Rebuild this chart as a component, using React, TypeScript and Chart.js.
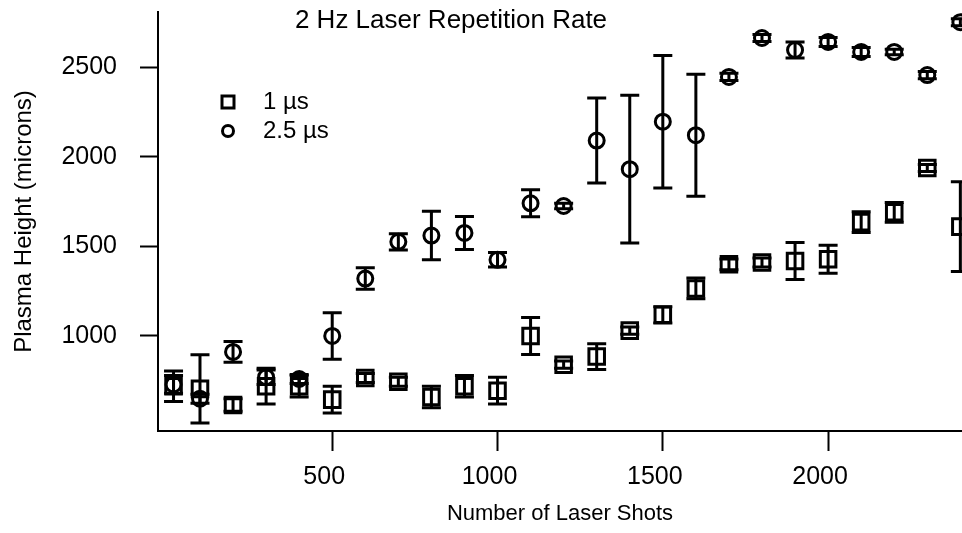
import React, { useEffect, useRef } from "react";
import { Chart, registerables } from "chart.js";

Chart.register(...registerables);

// Shot counts at which the plasma height was sampled
const SHOTS = [20, 100, 200, 300, 400, 500, 600, 700, 800, 900, 1000, 1100, 1200, 1300, 1400, 1500, 1600, 1700, 1800, 1900, 2000, 2100, 2200, 2300, 2400];

// 1 µs delay: mean plasma height and its uncertainty (microns)
const HEIGHT_1US = [720, 705, 615, 720, 720, 645, 766, 745, 660, 720, 695, 1000, 840, 885, 1030, 1118, 1265, 1400, 1410, 1418, 1428, 1635, 1690, 1937, 1610];
const ERR_1US = [85, 190, 35, 100, 60, 75, 25, 25, 60, 60, 75, 103, 20, 72, 20, 45, 58, 30, 25, 103, 78, 58, 55, 20, 250];

// 2.5 µs delay
const HEIGHT_25US = [730, 650, 911, 770, 760, 1000, 1320, 1525, 1560, 1575, 1425, 1740, 1725, 2090, 1930, 2195, 2120, 2445, 2662, 2595, 2640, 2584, 2584, 2455, 2750];
const ERR_25US = [50, 25, 58, 40, 25, 130, 60, 45, 135, 92, 40, 75, 15, 237, 412, 370, 340, 20, 20, 45, 25, 25, 15, 20, 20];

const X_TICKS = [500, 1000, 1500, 2000];
const Y_TICKS = [1000, 1500, 2000, 2500];

const SERIES_LABELS = ["1 \u00b5s", "2.5 \u00b5s"];
const TITLE = "2 Hz Laser Repetition Rate";
const X_TITLE = "Number of Laser Shots";
const Y_TITLE = "Plasma Height (microns)";

const INK = "#000000";
const FONT = "'Liberation Sans', Arial, Helvetica, sans-serif";
const CAP = 9.5;

// Vertical error bars with caps, drawn over the markers
const errorBars = {
  id: "errorBars",
  afterDatasetsDraw(chart: any) {
    const { ctx } = chart;
    const xs = chart.scales.x;
    const ys = chart.scales.y;
    ctx.save();
    ctx.strokeStyle = INK;
    ctx.lineWidth = 3;
    chart.data.datasets.forEach((ds: any) => {
      const errs: number[] = ds.errors || [];
      ds.data.forEach((pt: any, j: number) => {
        const e = errs[j] || 0;
        const px = xs.getPixelForValue(pt.x);
        const top = ys.getPixelForValue(pt.y + e);
        const bot = ys.getPixelForValue(pt.y - e);
        ctx.beginPath();
        ctx.moveTo(px, top);
        ctx.lineTo(px, bot);
        ctx.moveTo(px - CAP, top);
        ctx.lineTo(px + CAP, top);
        ctx.moveTo(px - CAP, bot);
        ctx.lineTo(px + CAP, bot);
        ctx.stroke();
      });
    });
    ctx.restore();
  },
};

// Title inside the frame and the marker key in the upper left
const frameText = {
  id: "frameText",
  afterDraw(chart: any) {
    const { ctx, chartArea } = chart;
    ctx.save();
    ctx.fillStyle = INK;
    ctx.strokeStyle = INK;
    ctx.textBaseline = "middle";

    ctx.font = `26px ${FONT}`;
    ctx.textAlign = "center";
    ctx.fillText(TITLE, 451, 21);

    const mx = chartArea.left + 70;
    const tx = chartArea.left + 105;
    const rows = [102, 131];
    ctx.lineWidth = 3;
    ctx.font = `24px ${FONT}`;
    ctx.textAlign = "left";
    chart.data.datasets.forEach((ds: any, i: number) => {
      const cy = rows[i];
      ctx.beginPath();
      if (ds.pointStyle === "rect") {
        ctx.rect(mx - 6, cy - 6, 12, 12);
      } else {
        ctx.arc(mx, cy, 5.5, 0, Math.PI * 2);
      }
      ctx.stroke();
      ctx.fillText(ds.label, tx, cy);
    });
    ctx.restore();
  },
};

export default function App() {
  const ref = useRef<HTMLCanvasElement | null>(null);

  useEffect(() => {
    document.body.style.margin = "0";
    const canvas = ref.current;
    if (!canvas) return;
    Chart.defaults.font.family = FONT;
    Chart.defaults.color = INK;

    const toPoints = (ys: number[]) => SHOTS.map((x, i) => ({ x, y: ys[i] }));

    const chart = new Chart(canvas, {
      type: "scatter",
      data: {
        datasets: [
          {
            label: SERIES_LABELS[0],
            data: toPoints(HEIGHT_1US),
            errors: ERR_1US,
            pointStyle: "rect",
            pointRadius: 11,
            pointBorderWidth: 3,
            borderColor: INK,
            backgroundColor: "rgba(0,0,0,0)",
          } as any,
          {
            label: SERIES_LABELS[1],
            data: toPoints(HEIGHT_25US),
            errors: ERR_25US,
            pointStyle: "circle",
            pointRadius: 7.5,
            pointBorderWidth: 3,
            borderColor: INK,
            backgroundColor: "rgba(0,0,0,0)",
          } as any,
        ],
      },
      options: {
        responsive: false,
        animation: false,
        devicePixelRatio: 1,
        layout: { autoPadding: false, padding: { top: 12, left: 0, right: 0, bottom: 0 } },
        plugins: {
          legend: { display: false },
          title: { display: false },
          tooltip: { enabled: false },
        },
        scales: {
          x: {
            type: "linear",
            min: -27,
            max: 2405,
            afterBuildTicks: (s: any) => {
              s.ticks = X_TICKS.map((v) => ({ value: v }));
            },
            afterFit: (s: any) => {
              s.height = 102;
              s.paddingLeft = 0;
              s.paddingRight = 0;
            },
            grid: {
              display: true,
              drawOnChartArea: false,
              drawTicks: true,
              tickLength: 20,
              tickWidth: 2,
              tickColor: INK,
              color: INK,
            },
            border: { display: true, color: INK, width: 2 },
            ticks: {
              color: INK,
              font: { size: 25 },
              padding: 11,
              labelOffset: -8,
              maxRotation: 0,
              autoSkip: false,
              callback: (v: any) => String(v),
            },
            title: {
              display: true,
              text: X_TITLE,
              color: INK,
              font: { size: 22 },
              padding: { top: 0, bottom: 6 },
            },
          },
          y: {
            type: "linear",
            min: 470,
            max: 2807,
            afterBuildTicks: (s: any) => {
              s.ticks = Y_TICKS.map((v) => ({ value: v }));
            },
            afterFit: (s: any) => {
              s.width = 158;
              s.paddingTop = 0;
              s.paddingBottom = 0;
            },
            grid: {
              display: true,
              drawOnChartArea: false,
              drawTicks: true,
              tickLength: 18,
              tickWidth: 2,
              tickColor: INK,
              color: INK,
            },
            border: { display: true, color: INK, width: 2 },
            ticks: {
              color: INK,
              font: { size: 25 },
              padding: 23,
              autoSkip: false,
              callback: (v: any) => String(v),
            },
            title: {
              display: true,
              text: Y_TITLE,
              color: INK,
              font: { size: 24 },
              padding: { top: 10, bottom: 0 },
            },
          },
        },
      } as any,
      plugins: [errorBars, frameText],
    });

    return () => chart.destroy();
  }, []);

  return (
    <div style={{ width: 962, height: 533 }}>
      <canvas ref={ref} width={962} height={533} style={{ display: "block" }} />
    </div>
  );
}
